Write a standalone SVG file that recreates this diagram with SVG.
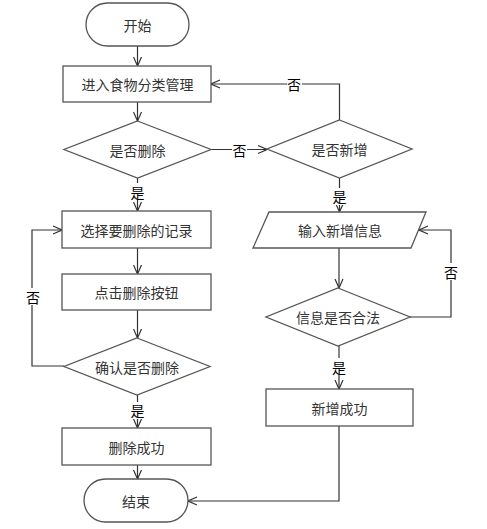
<svg xmlns="http://www.w3.org/2000/svg" width="487" height="529" viewBox="0 0 487 529">
<defs>
<marker id="arr" viewBox="0 0 10 10" refX="10" refY="5" markerWidth="10" markerHeight="10" markerUnits="userSpaceOnUse" orient="auto">
<path d="M1,1 L10,5 L1,9" fill="none" stroke="#333" stroke-width="1.2"/>
</marker>
</defs>
<style>
.shape{fill:#fff;stroke:#555;stroke-width:1.3}
.t{font-family:"Noto Sans CJK SC","Liberation Sans",sans-serif;font-size:14px;fill:#333;text-anchor:middle;dominant-baseline:central}
.lbl{font-family:"Noto Sans CJK SC","Liberation Sans",sans-serif;font-size:14px;fill:#000;text-anchor:middle;dominant-baseline:central}
.c{fill:none;stroke:#333;stroke-width:1.2}
.bg{fill:#fff}
</style>
<rect width="487" height="529" fill="#fff"/>
<g id="connectors">
<path class="c" d="M137.5,46 V66" marker-end="url(#arr)"/>
<path class="c" d="M137.5,102 V121" marker-end="url(#arr)"/>
<path class="c" d="M137.5,178 V211" marker-end="url(#arr)"/>
<path class="c" d="M137.5,248 V274" marker-end="url(#arr)"/>
<path class="c" d="M137.5,310 V338" marker-end="url(#arr)"/>
<path class="c" d="M137.5,395 V428" marker-end="url(#arr)"/>
<path class="c" d="M137.5,465 V479" marker-end="url(#arr)"/>
<path class="c" d="M64,366 H32 V230 H62" marker-end="url(#arr)"/>
<path class="c" d="M211,149.5 H267" marker-end="url(#arr)"/>
<path class="c" d="M339.5,120 V84 H211" marker-end="url(#arr)"/>
<path class="c" d="M339.5,178 V212" marker-end="url(#arr)"/>
<path class="c" d="M339,248 V288" marker-end="url(#arr)"/>
<path class="c" d="M410,317 H451 V230 H419" marker-end="url(#arr)"/>
<path class="c" d="M339,346 V389" marker-end="url(#arr)"/>
<path class="c" d="M339,426 V501 H188" marker-end="url(#arr)"/>
<rect class="bg" x="130" y="183" width="15" height="17"/>
<text class="lbl" x="137.5" y="192">是</text>
<rect class="bg" x="130" y="402" width="15" height="17"/>
<text class="lbl" x="137.5" y="410">是</text>
<rect class="bg" x="25" y="288" width="15" height="17"/>
<text class="lbl" x="33" y="297">否</text>
<rect class="bg" x="232" y="141" width="15" height="17"/>
<text class="lbl" x="239.5" y="149.5">否</text>
<rect class="bg" x="287" y="76" width="15" height="17"/>
<text class="lbl" x="294" y="84">否</text>
<rect class="bg" x="332" y="188" width="15" height="17"/>
<text class="lbl" x="339.5" y="196">是</text>
<rect class="bg" x="444" y="263" width="15" height="17"/>
<text class="lbl" x="451" y="272">否</text>
<rect class="bg" x="331" y="358" width="15" height="17"/>
<text class="lbl" x="339" y="367">是</text>
</g>
<g id="start"><rect class="shape" x="86" y="3" width="103" height="43" rx="21.5"/><text class="t" x="137.5" y="24.5">开始</text></g>
<g id="enter"><rect class="shape" x="63" y="66" width="148" height="36"/><text class="t" x="137.5" y="84">进入食物分类管理</text></g>
<g id="isDelete"><polygon class="shape" points="137.5,121 211,149.5 137.5,178 64,149.5"/><text class="t" x="137.5" y="149.5">是否删除</text></g>
<g id="isAdd"><polygon class="shape" points="339.5,120 412,149 339.5,178 267,149"/><text class="t" x="339.5" y="149">是否新增</text></g>
<g id="select"><rect class="shape" x="62" y="211" width="149" height="37"/><text class="t" x="136.5" y="229.5">选择要删除的记录</text></g>
<g id="click"><rect class="shape" x="62" y="274" width="149" height="36"/><text class="t" x="136.5" y="292">点击删除按钮</text></g>
<g id="confirm"><polygon class="shape" points="137,338 210,366.5 137,395 64,366.5"/><text class="t" x="137" y="366.5">确认是否删除</text></g>
<g id="delOk"><rect class="shape" x="62" y="428" width="149" height="37"/><text class="t" x="136.5" y="446.5">删除成功</text></g>
<g id="end"><rect class="shape" x="84" y="479" width="104" height="43" rx="21.5"/><text class="t" x="136" y="500.5">结束</text></g>
<g id="input"><polygon class="shape" points="269,212 426,212 411,248 253,248"/><text class="t" x="340" y="230">输入新增信息</text></g>
<g id="valid"><polygon class="shape" points="338,288 410,317 338,346 266,317"/><text class="t" x="338" y="317">信息是否合法</text></g>
<g id="addOk"><rect class="shape" x="266" y="389" width="147" height="37"/><text class="t" x="339.5" y="407.5">新增成功</text></g>
</svg>
